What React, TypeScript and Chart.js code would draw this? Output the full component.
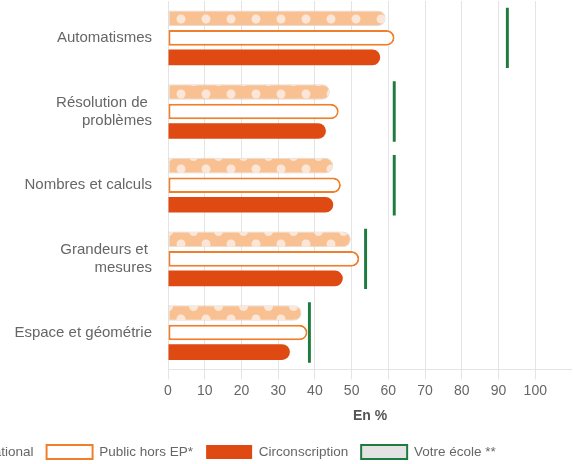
import React, { useEffect, useRef } from "react";
import { Chart, registerables } from "chart.js";

Chart.register(...registerables);

const categories: string[][] = [
  ["Automatismes"],
  ["Résolution de ", "problèmes"],
  ["Nombres et calculs"],
  ["Grandeurs et ", "mesures"],
  ["Espace et géométrie"],
];
const seriesNames = ["National", "Public hors EP*", "Circonscription", "Votre école **"];
const nationalValues = [59.3, 44.1, 45, 49.8, 36.4];
const publicValues = [61.7, 46.5, 47.1, 52.1, 38];
const circValues = [57.8, 43, 45, 47.6, 33.2];
const ecoleValues = [92.4, 61.6, 61.6, 53.8, 38.5];
const xTickValues = [0, 10, 20, 30, 40, 50, 60, 70, 80, 90, 100];

const FONT = "'Liberation Sans', Arial, Helvetica, sans-serif";
const SHIFT = 145; // canvas shifted left (page is a crop)
const CW = 572 + SHIFT;
const CH = 469;

function makePattern(): CanvasPattern | string {
  const t = document.createElement("canvas");
  t.width = 25;
  t.height = 25;
  const c = t.getContext("2d");
  if (!c) return "#f9c092";
  c.fillStyle = "#f9c092";
  c.fillRect(0, 0, 25, 25);
  c.fillStyle = "#fbe6d7";
  const ox = (181 + SHIFT) % 25;
  const pts = [
    [ox, 19],
    [ox + 12.5, 6.5],
  ];
  for (const [px, py] of pts) {
    for (const dx of [-25, 0, 25]) {
      for (const dy of [-25, 0, 25]) {
        c.beginPath();
        c.arc(px + dx, py + dy, 4.5, 0, Math.PI * 2);
        c.fill();
      }
    }
  }
  const p = c.createPattern(t, "repeat");
  return p || "#f9c092";
}

export default function App() {
  const ref = useRef<HTMLCanvasElement | null>(null);
  useEffect(() => {
    if (!ref.current) return;
    document.body.style.margin = "0";
    const pattern = makePattern();
    const radius = { topLeft: 0, bottomLeft: 0, topRight: 8, bottomRight: 8 };
    const chart = new Chart(ref.current, {
      type: "bar",
      data: {
        labels: categories,
        datasets: [
          {
            label: seriesNames[0],
            data: nationalValues,
            backgroundColor: pattern as any,
            borderColor: "rgba(215,205,198,0.7)",
            borderWidth: 1,
            borderSkipped: false,
            borderRadius: radius,
            categoryPercentage: 0.795,
            barPercentage: 0.8,
          },
          {
            label: seriesNames[1],
            data: publicValues,
            backgroundColor: "#ffffff",
            borderColor: "#f07f2c",
            borderWidth: 2,
            borderSkipped: false,
            borderRadius: radius,
            categoryPercentage: 0.795,
            barPercentage: 0.8,
          },
          {
            label: seriesNames[2],
            data: circValues,
            backgroundColor: "#df4a12",
            borderWidth: 0,
            borderSkipped: false,
            borderRadius: radius,
            categoryPercentage: 0.795,
            barPercentage: 0.8,
          },
          {
            label: seriesNames[3],
            data: ecoleValues.map((v) => [v - 0.4, v + 0.4]) as any,
            backgroundColor: "#1e7b3e",
            borderWidth: 0,
            grouped: false,
            order: -1,
            categoryPercentage: 0.82,
            barPercentage: 1,
          } as any,
        ],
      },
      options: {
        indexAxis: "y",
        responsive: false,
        animation: false,
        devicePixelRatio: 1,
        layout: { padding: { left: 0, right: 0, top: 1, bottom: 0 } },
        font: { family: FONT },
        plugins: {
          tooltip: { enabled: false },
          legend: {
            position: "bottom",
            labels: {
              boxWidth: 46,
              boxHeight: 14,
              padding: 13,
              color: "#666",
              font: { family: FONT, size: 13.5 },
              generateLabels: () => [
                { text: seriesNames[0], fillStyle: pattern as any, strokeStyle: "#f9c092", lineWidth: 0, hidden: false, datasetIndex: 0, fontColor: "#666" },
                { text: seriesNames[1], fillStyle: "#ffffff", strokeStyle: "#f07f2c", lineWidth: 2, hidden: false, datasetIndex: 1, fontColor: "#666" },
                { text: seriesNames[2], fillStyle: "#df4a12", strokeStyle: "#df4a12", lineWidth: 0, hidden: false, datasetIndex: 2, fontColor: "#666" },
                { text: seriesNames[3], fillStyle: "#e3e3e3", strokeStyle: "#1e7b3e", lineWidth: 2, hidden: false, datasetIndex: 3, fontColor: "#666" },
              ] as any,
            },
          },
        },
        scales: {
          x: {
            type: "linear",
            min: 0,
            max: 110,
            afterBuildTicks: (s: any) => {
              s.ticks = xTickValues.map((v) => ({ value: v }));
            },
            ticks: { color: "#666", font: { family: FONT, size: 14 }, padding: 3 },
            grid: { color: "#e4e4e4", tickLength: 10, lineWidth: 1 },
            border: { color: "#e4e4e4" },
            title: {
              display: true,
              text: "En %",
              color: "#555",
              font: { family: FONT, size: 14, weight: "bold" },
              padding: { top: 6, bottom: 7 },
            },
          },
          y: {
            type: "category",
            afterFit: (s: any) => {
              s.width = 168 + SHIFT;
              s.paddingTop = 0;
              s.paddingBottom = 0;
            },
            grid: { display: false, drawTicks: false },
            border: { display: false },
            ticks: { color: "#666", font: { family: FONT, size: 15 }, padding: 16 },
          },
        },
      } as any,
    });
    return () => chart.destroy();
  }, []);
  return (
    <div style={{ position: "fixed", left: 0, top: 0, width: 573, height: 464, overflow: "hidden", background: "#fff" }}>
      <canvas ref={ref} width={CW} height={CH} style={{ position: "absolute", left: -SHIFT, top: 0, width: CW, height: CH }} />
    </div>
  );
}
